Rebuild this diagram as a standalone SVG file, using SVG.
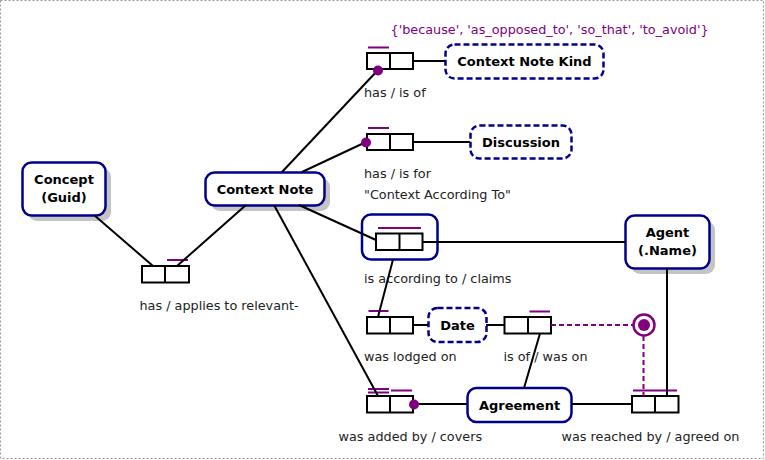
<svg xmlns="http://www.w3.org/2000/svg" width="765" height="460" viewBox="0 0 765 460">
<style>
.bg{fill:#fff}
.frame{fill:none;stroke:#999;stroke-width:1;stroke-dasharray:2,2}
.shadow{fill:#c4c4c4}
.ent{fill:#fff;stroke:#00008b;stroke-width:2.5}
.val{fill:#fff;stroke:#00008b;stroke-width:2.5;stroke-dasharray:6,3}
.obj{fill:#fff;stroke:#00008b;stroke-width:2.5}
.role{fill:#fff;stroke:#000;stroke-width:2}
.div{stroke:#000;stroke-width:2}
.ln{stroke:#000;stroke-width:2;fill:none}
.uc{stroke:#800080;stroke-width:2;fill:none}
.cn{stroke:#800080;stroke-width:2;fill:none;stroke-dasharray:5,3}
.dot{fill:#800080}
.lbl{font-family:"DejaVu Sans",Verdana,sans-serif;font-size:13px;font-weight:bold;fill:#000;text-anchor:middle}
.txt{font-family:"DejaVu Sans",Verdana,sans-serif;font-size:12.8px;fill:#222}
.vtxt{font-family:"DejaVu Sans",Verdana,sans-serif;font-size:12.8px;fill:#800080}
</style>
<rect class="bg" x="0" y="0" width="765" height="460"/>
<rect class="frame" x="0.5" y="0.5" width="763" height="458"/>

<g id="concept">
<rect class="shadow" x="28" y="168" width="83" height="53" rx="9"/>
<rect class="ent" x="22.5" y="162.5" width="83" height="53" rx="9"/>
<text class="lbl" x="64" y="184">Concept</text>
<text class="lbl" x="64" y="201.5">(Guid)</text>
</g>

<g id="context-note">
<rect class="shadow" x="211" y="178" width="119" height="33" rx="9"/>
<rect class="ent" x="205.5" y="172.5" width="119" height="33" rx="9"/>
<text class="lbl" x="265" y="193.5">Context Note</text>
</g>

<g id="context-note-kind">
<rect class="val" x="445.5" y="44.5" width="158" height="34" rx="9"/>
<text class="lbl" x="524.5" y="66">Context Note Kind</text>
<text class="vtxt" x="390.5" y="33.5">{'because', 'as_opposed_to', 'so_that', 'to_avoid'}</text>
</g>

<g id="discussion">
<rect class="val" x="470.5" y="125.5" width="101" height="33" rx="9"/>
<text class="lbl" x="521" y="146.5">Discussion</text>
</g>

<g id="agent">
<rect class="shadow" x="631" y="221" width="84" height="53" rx="9"/>
<rect class="ent" x="625.5" y="215.5" width="84" height="53" rx="9"/>
<text class="lbl" x="667.5" y="237">Agent</text>
<text class="lbl" x="667.5" y="255">(.Name)</text>
</g>

<g id="date">
<rect class="val" x="428.5" y="308" width="58" height="34" rx="9"/>
<text class="lbl" x="457.5" y="330">Date</text>
</g>

<g id="agreement">
<rect class="ent" x="467.5" y="388" width="104" height="34" rx="9"/>
<text class="lbl" x="519.5" y="409.5">Agreement</text>
</g>

<g id="fact-has-kind">
<rect class="role" x="367" y="53" width="46" height="16"/>
<line class="div" x1="390" y1="53" x2="390" y2="69"/>
<line class="uc" x1="368" y1="47.5" x2="389" y2="47.5"/>
<text class="txt" x="364" y="97">has / is of</text>
</g>

<g id="fact-has-discussion">
<rect class="role" x="367" y="134" width="46" height="16"/>
<line class="div" x1="390" y1="134" x2="390" y2="150"/>
<line class="uc" x1="368" y1="128" x2="389" y2="128"/>
<text class="txt" x="364" y="178">has / is for</text>
<text class="txt" x="364" y="198.5">"Context According To"</text>
</g>

<g id="fact-according-to">
<rect class="obj" x="362" y="214.5" width="75.5" height="45" rx="9"/>
<rect class="role" x="376" y="233.5" width="46.5" height="16.5"/>
<line class="div" x1="399.5" y1="233.5" x2="399.5" y2="250"/>
<line class="uc" x1="378" y1="228" x2="421" y2="228"/>
<text class="txt" x="364" y="282.5">is according to / claims</text>
</g>

<g id="fact-applies-to">
<rect class="role" x="142" y="266" width="47" height="16.5"/>
<line class="div" x1="165" y1="266" x2="165" y2="282.5"/>
<line class="uc" x1="167" y1="260" x2="188" y2="260"/>
<text class="txt" x="139.5" y="309.5">has / applies to relevant-</text>
</g>

<g id="fact-lodged-on">
<rect class="role" x="367" y="317" width="46" height="16.5"/>
<line class="div" x1="390" y1="317" x2="390" y2="333.5"/>
<line class="uc" x1="368.5" y1="311" x2="388.5" y2="311"/>
<text class="txt" x="364" y="360.5">was lodged on</text>
</g>

<g id="fact-is-of">
<rect class="role" x="504.5" y="317" width="46.5" height="16.5"/>
<line class="div" x1="528" y1="317" x2="528" y2="333.5"/>
<line class="uc" x1="529.5" y1="311.5" x2="550" y2="311.5"/>
<text class="txt" x="503.5" y="360.5">is of / was on</text>
</g>

<g id="fact-added-by">
<rect class="role" x="367" y="396" width="46" height="16.5"/>
<line class="div" x1="390" y1="396" x2="390" y2="412.5"/>
<line class="uc" x1="368" y1="389" x2="389" y2="389"/>
<line class="uc" x1="368" y1="392.5" x2="389" y2="392.5"/>
<line class="uc" x1="391" y1="390.5" x2="412" y2="390.5"/>
<text class="txt" x="338.5" y="440.5">was added by / covers</text>
</g>

<g id="fact-reached-by">
<rect class="role" x="632" y="396" width="46.5" height="16.5"/>
<line class="div" x1="655" y1="396" x2="655" y2="412.5"/>
<line class="uc" x1="633" y1="390.5" x2="677" y2="390.5"/>
<text class="txt" x="561.5" y="440.5">was reached by / agreed on</text>
</g>

<g id="external-uniqueness">
<circle cx="644" cy="325" r="10.5" fill="#fff" stroke="#800080" stroke-width="2.5"/>
<circle class="dot" cx="644" cy="325" r="6"/>
</g>

<g id="connectors">
<line class="ln" x1="94" y1="215" x2="153" y2="266"/>
<line class="ln" x1="246" y1="205" x2="177" y2="266"/>
<line class="ln" x1="282" y1="172" x2="378" y2="70"/>
<line class="ln" x1="302" y1="172" x2="366" y2="142"/>
<line class="ln" x1="299" y1="205" x2="376" y2="240"/>
<line class="ln" x1="274" y1="205" x2="378" y2="396"/>
<line class="ln" x1="413" y1="61" x2="445" y2="61"/>
<line class="ln" x1="413" y1="142" x2="470" y2="142"/>
<line class="ln" x1="423" y1="242" x2="625" y2="242"/>
<line class="ln" x1="393" y1="259.5" x2="378" y2="317"/>
<line class="ln" x1="413" y1="325" x2="428" y2="325"/>
<line class="ln" x1="486" y1="325" x2="504" y2="325"/>
<line class="ln" x1="540" y1="333.5" x2="524" y2="388"/>
<line class="ln" x1="414" y1="404" x2="467" y2="404"/>
<line class="ln" x1="571" y1="404" x2="632" y2="404"/>
<line class="ln" x1="667" y1="268" x2="667" y2="396"/>
<line class="cn" x1="551" y1="325" x2="633" y2="325"/>
<line class="cn" x1="643.5" y1="336" x2="643.5" y2="396"/>
<circle class="dot" cx="378" cy="70.5" r="5"/>
<circle class="dot" cx="366" cy="142.5" r="5"/>
<circle class="dot" cx="414" cy="404.5" r="5"/>
</g>
</svg>
